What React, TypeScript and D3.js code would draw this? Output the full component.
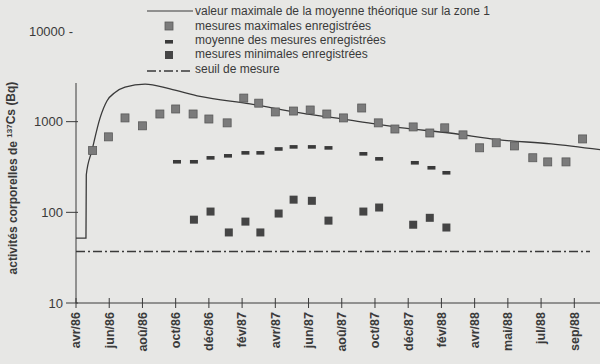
import * as d3 from 'd3';

// axe des x : index de mois depuis avr/86, un repère tous les 2 mois
const moisTicks = [0, 2, 4, 6, 8, 10, 12, 14, 16, 18, 20, 22, 24, 26, 28, 30];
const moisLabels = ['avr/86', 'jun/86', 'aoû/86', 'oct/86', 'déc/86', 'fév/87', 'avr/87', 'jun/87',
    'aoû/87', 'oct/87', 'déc/87', 'fév/88', 'avr/88', 'mai/88', 'jul/88', 'sep/88'];
const yTicks = [10, 100, 1000, 10000];

// valeur maximale de la moyenne théorique
const courbeMois = [0, 0.6, 0.62, 0.96, 1.45, 1.87, 2.35, 2.95, 4.16, 5.66, 7.47, 10.48, 13.5, 16.5, 19.5, 22.5, 25.5, 28.6, 31.6];
const courbeValeurs = [52, 52, 260, 480, 1100, 1700, 2100, 2400, 2600, 2300, 1900, 1570, 1250, 1040, 860, 750, 630, 570, 490];

// mesures maximales
const maxMois = [1, 1.95, 2.95, 4, 5.05, 6, 7.05, 8, 9.1, 10.1, 11, 12, 13.1, 14.1, 15.1, 16.1, 17.2, 18.2,
    19.2, 20.3, 21.3, 22.2, 23.3, 24.3, 25.3, 26.4, 27.5, 28.4, 29.5, 30.5];
const maxValeurs = [480, 680, 1100, 900, 1215, 1380, 1215, 1070, 970, 1820, 1600, 1280, 1310, 1345, 1215, 1100,
    1415, 970, 830, 875, 750, 855, 715, 515, 585, 540, 400, 360, 360, 645];

// moyenne des mesures
const moyMois = [6.08, 7.1, 8.1, 9.15, 10.2, 11.1, 12.2, 13.1, 14.2, 15.2, 17.3, 18.25, 20.4, 21.4, 22.3];
const moyValeurs = [361, 361, 399, 420, 453, 453, 500, 527, 527, 514, 442, 389, 352, 310, 273];

// mesures minimales
const minMois = [7.1, 8.1, 9.2, 10.2, 11.1, 12.2, 13.1, 14.2, 15.2, 17.3, 18.25, 20.3, 21.3, 22.3];
const minValeurs = [83, 102, 60, 79, 60, 97, 138, 134, 81, 102, 113, 73, 87, 68];

const seuil = 37;

const legendeTextes = [
    'valeur maximale de la moyenne théorique sur la zone 1',
    'mesures maximales enregistrées',
    'moyenne des mesures enregistrées',
    'mesures minimales enregistrées',
    'seuil de mesure',
];

const width = 600;
const height = 364;
const ink = '#3a3a3a';
const font = '"Liberation Sans", Arial, Helvetica, sans-serif';

export default function App() {
    const x = d3.scaleLinear().domain([0, 30]).range([76, 574.3]);
    const y = d3.scaleLog().domain([10, 10000]).range([303, 31]);

    const line = d3.line<number>()
        .x((d, i) => x(courbeMois[i]))
        .y(d => y(d))
        .curve(d3.curveMonotoneX);

    const axeBas = y(10);
    const axeGauche = x(0);

    return (
        <svg width={width} height={height} style={{ position: 'absolute', left: 0, top: 0, background: '#e7e7e5' }}
            fontFamily={font}>
            {/* axes */}
            <line x1={axeGauche} x2={axeGauche} y1={83} y2={axeBas} stroke={ink} strokeWidth={1} />
            <line x1={axeGauche} x2={width} y1={axeBas} y2={axeBas} stroke={ink} strokeWidth={1} />
            {yTicks.map(t => (
                <g key={t}>
                    {t !== 10000 && <line x1={axeGauche - 10} x2={axeGauche + 2} y1={y(t)} y2={y(t)} stroke={ink} />}
                    <text x={t === 10000 ? 73 : 63} y={y(t)} dy="0.35em" textAnchor="end" fontSize={13} fill={ink}>
                        {t === 10000 ? `${t} -` : t}
                    </text>
                </g>
            ))}
            {moisTicks.map((m, i) => (
                <g key={m}>
                    <line x1={x(m)} x2={x(m)} y1={axeBas - 5} y2={axeBas + 5} stroke={ink} />
                    <text transform={`translate(${x(m)},${axeBas + 9}) rotate(-90)`} dy="0.35em" textAnchor="end"
                        fontSize={12.5} fontWeight="bold" fill={ink}>{moisLabels[i]}</text>
                </g>
            ))}
            <text transform={`translate(13,178) rotate(-90)`} dy="0.35em" textAnchor="middle" fontSize={12}
                fontWeight="bold" fill={ink}>
                activités corporelles de <tspan fontSize={8} dy="-0.6em">137</tspan><tspan dy="0.25em">Cs (Bq)</tspan>
            </text>

            {/* seuil de mesure */}
            <line x1={axeGauche} x2={590} y1={y(seuil)} y2={y(seuil)} stroke={ink} strokeWidth={1.6}
                strokeDasharray="9,3,2,3" />

            {/* courbe théorique */}
            <path d={line(courbeValeurs) || ''} fill="none" stroke={ink} strokeWidth={1.3} />

            {maxValeurs.map((v, i) => (
                <rect key={'max' + i} x={x(maxMois[i]) - 4} y={y(v) - 4} width={8} height={8}
                    fill="#7b7b7b" stroke="#5a5a5a" strokeWidth={0.8} />
            ))}
            {moyValeurs.map((v, i) => (
                <rect key={'moy' + i} x={x(moyMois[i]) - 4} y={y(v) - 1.8} width={8} height={3.6} fill={ink} />
            ))}
            {minValeurs.map((v, i) => (
                <rect key={'min' + i} x={x(minMois[i]) - 4} y={y(v) - 4} width={8} height={8} fill="#454545" />
            ))}

            {/* légende */}
            <g fontSize={12} fill={ink}>
                <line x1={147} x2={193} y1={11} y2={11} stroke={ink} strokeWidth={1.2} />
                <rect x={165} y={22} width={8} height={8} fill="#7b7b7b" stroke="#5a5a5a" strokeWidth={0.8} />
                <rect x={165} y={40} width={8} height={3.6} fill={ink} />
                <rect x={165} y={51} width={8} height={8} fill="#454545" />
                <line x1={147} x2={193} y1={71} y2={71} stroke={ink} strokeWidth={1.6} strokeDasharray="9,3,2,3" />
                {legendeTextes.map((t, i) => (
                    <text key={t} x={195} y={[15, 29.5, 44, 58, 73][i]}>{t}</text>
                ))}
            </g>
        </svg>
    );
}
